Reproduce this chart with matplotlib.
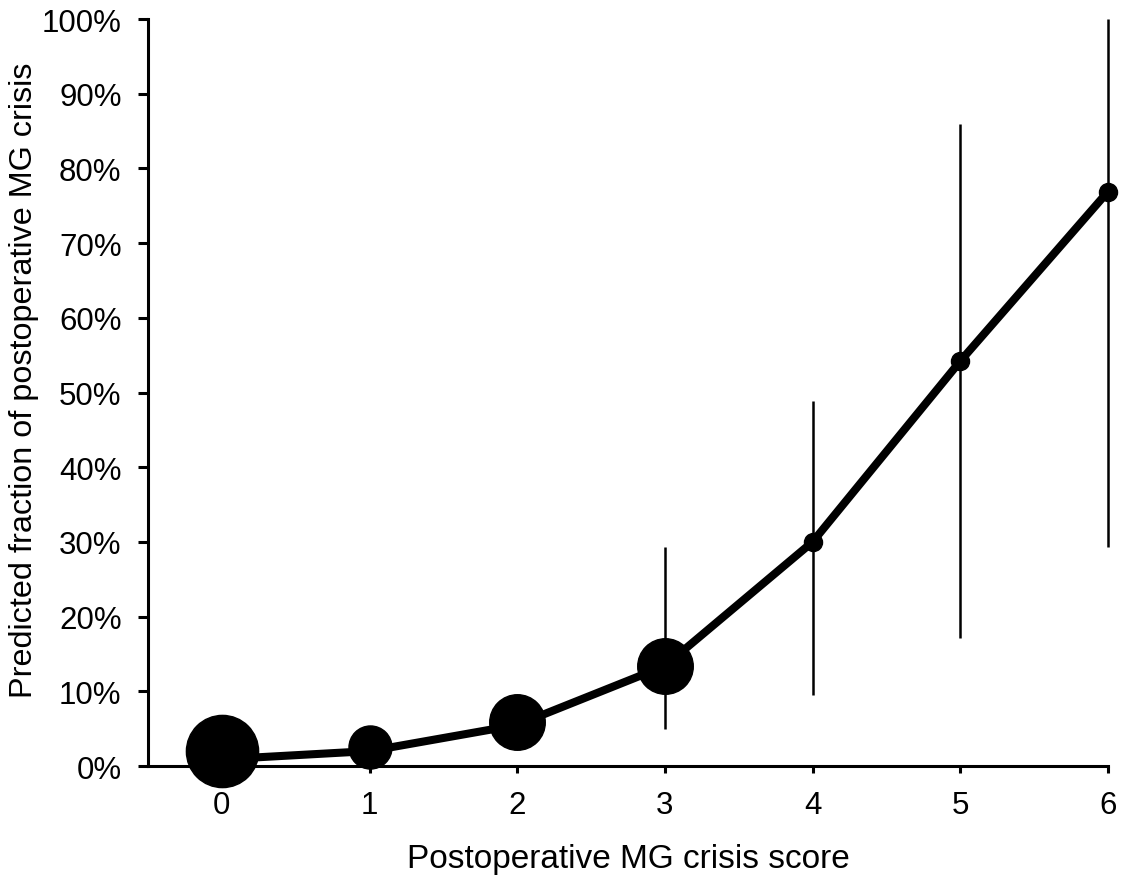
import numpy as np
import matplotlib.pyplot as plt
from matplotlib.ticker import PercentFormatter

plt.rcParams['font.family'] = ['Liberation Sans', 'DejaVu Sans']

# data
score = [0, 1, 2, 3, 4, 5, 6]
predicted = [0.9, 2.0, 5.5, 13.4, 30.0, 54.2, 76.9]   # line, %
observed = [2.0, 2.6, 5.9, 13.4, 30.0, 54.2, 76.9]    # circles, %
marker_d = [52, 31, 40, 40, 13, 13, 13]               # circle diameter (pt), ~ group size
ci_score = [3, 4, 5, 6]
ci_low = [5.0, 9.5, 17.2, 29.3]
ci_high = [29.3, 48.8, 86.0, 100.0]

fig = plt.figure(figsize=(11.23, 8.79), dpi=100)
ax = fig.add_axes([0.1318, 0.1274, 0.8548, 0.8498])

# confidence intervals
ax.vlines(ci_score, ci_low, ci_high, color='black', lw=1.8, zorder=1, clip_on=False)

# model line
ax.plot(score, predicted, color='black', lw=5.8, zorder=2, clip_on=False)

# circles sized by group
for x, y, d in zip(score, observed, marker_d):
    ax.plot(x, y, 'o', color='black', ms=d, zorder=3, clip_on=False)

ax.set_xlim(-0.5, 6)
ax.set_ylim(0, 100)
ax.set_xticks(score)
ax.set_yticks(np.arange(0, 101, 10))
ax.yaxis.set_major_formatter(PercentFormatter(decimals=0))

for s in ['top', 'right']:
    ax.spines[s].set_visible(False)
for s in ['left', 'bottom']:
    ax.spines[s].set_linewidth(2.2)

ax.tick_params(axis='both', labelsize=22.5, width=2.2, direction='out')
ax.tick_params(axis='x', length=5, pad=12)
ax.tick_params(axis='y', length=7, pad=12)

ax.set_xlabel('Postoperative MG crisis score', fontsize=24, labelpad=17)
ax.set_ylabel('Predicted fraction of postoperative MG crisis', fontsize=23.3, labelpad=2)
ax.yaxis.label.set_y(0.518)

plt.savefig('out.png', dpi=100)
